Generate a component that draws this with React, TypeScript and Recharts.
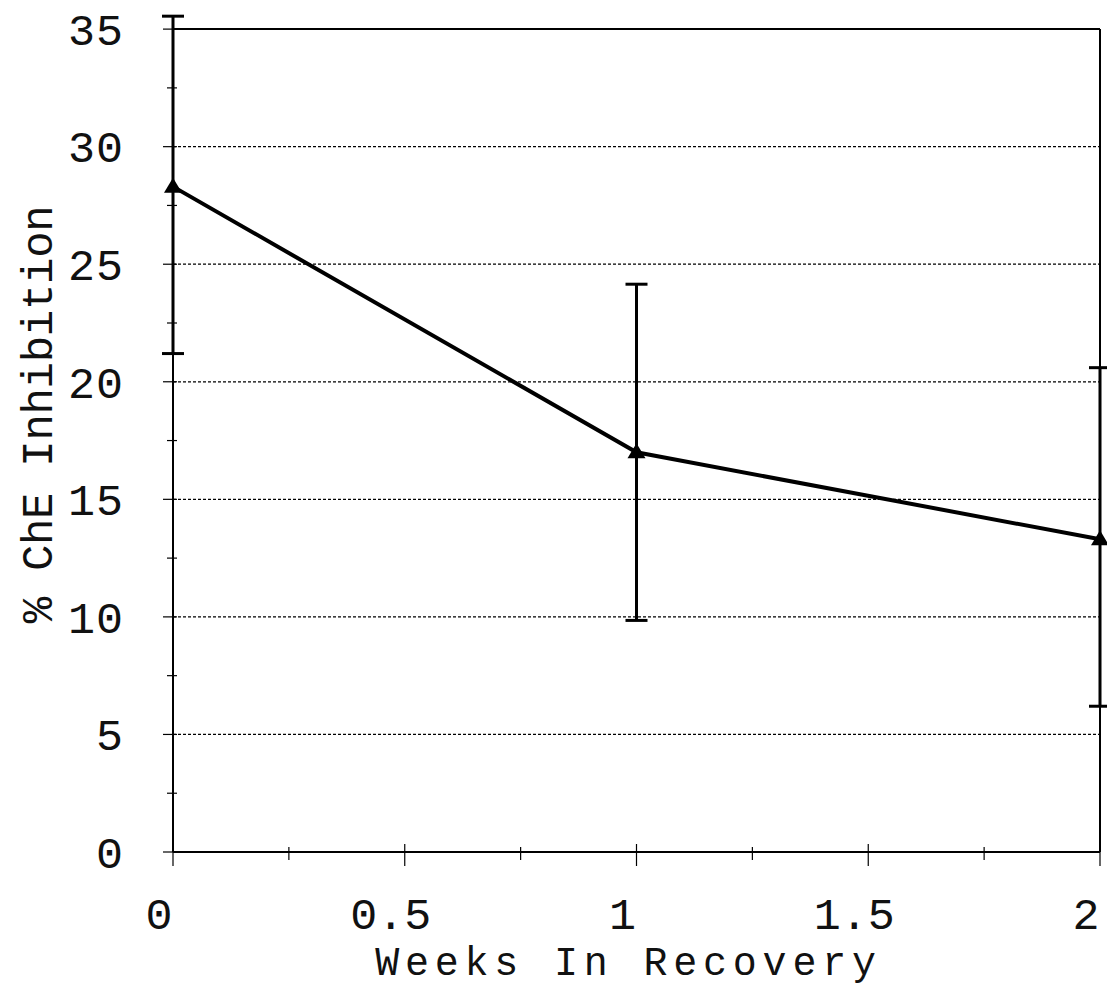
import React from "react";
import {
  LineChart,
  Line,
  XAxis,
  YAxis,
  CartesianGrid,
  ErrorBar,
  ReferenceLine,
} from "recharts";

// weeks in recovery vs % ChE inhibition
const weeks = [0, 1, 2];
const inhibition = [28.3, 17.0, 13.3];
const errLow = [7.1, 7.15, 7.1];
const errHigh = [7.25, 7.15, 7.3];

const xTicks = [0, 0.25, 0.5, 0.75, 1, 1.25, 1.5, 1.75, 2];
const yTicks = [0, 2.5, 5, 7.5, 10, 12.5, 15, 17.5, 20, 22.5, 25, 27.5, 30, 32.5, 35];
const gridValues = [5, 10, 15, 20, 25, 30];

const data = weeks.map((w, i) => ({
  week: w,
  value: inhibition[i],
  err: [errLow[i], errHigh[i]],
}));

const FONT = "'Liberation Mono', 'Courier New', monospace";

const Triangle = (props: any) => {
  const { cx, cy } = props;
  if (cx == null || cy == null) return null;
  return (
    <path
      d={`M${cx},${cy - 9} L${cx + 9},${cy + 6} L${cx - 9},${cy + 6} Z`}
      fill="#000"
    />
  );
};

const XTick = (props: any) => {
  const { x, y, payload } = props;
  const v = payload.value;
  const major = v % 0.5 === 0;
  return (
    <g>
      <line x1={x} x2={x} y1={y - (major ? 8 : 5)} y2={y + (major ? 14 : 8)} stroke="#000" strokeWidth={1.2} />
      {major && (
        <text x={x - 14} y={y + 61} dy="0.35em" textAnchor="middle" fontFamily={FONT} fontSize={45} fill="#111">
          {v}
        </text>
      )}
    </g>
  );
};

const YTick = (props: any) => {
  const { x, y, payload } = props;
  const v = payload.value;
  const major = v % 5 === 0;
  return (
    <g>
      <line x1={x - (major ? 10 : 6)} x2={x + 4} y1={y} y2={y} stroke="#000" strokeWidth={1.2} />
      {major && (
        <text x={x - 49} y={y} dy="0.35em" textAnchor="end" fontFamily={FONT} fontSize={45} letterSpacing={1} fill="#111">
          {v}
        </text>
      )}
    </g>
  );
};

const XTitle = (props: any) => {
  const vb = props.viewBox;
  return (
    <text
      x={vb.x + vb.width / 2 - 8}
      y={vb.y + vb.height - 24}
      textAnchor="middle"
      fontFamily={FONT}
      fontSize={40}
      letterSpacing={5.8}
      fill="#111"
    >
      Weeks In Recovery
    </text>
  );
};

const YTitle = (props: any) => {
  const vb = props.viewBox;
  const cx = vb.x + 52;
  const cy = vb.y + vb.height / 2 - 19;
  return (
    <text
      x={cx}
      y={cy}
      transform={`rotate(-90 ${cx} ${cy})`}
      textAnchor="middle"
      fontFamily={FONT}
      fontSize={44}
      letterSpacing={-0.3}
      fill="#111"
    >
      % ChE Inhibition
    </text>
  );
};

export default function App() {
  return (
    <div style={{ position: "absolute", left: 0, top: 0, background: "#fff" }}>
      <LineChart
        width={1107}
        height={999}
        data={data}
        margin={{ top: 15, right: 7, bottom: 0, left: 0 }}
      >
        <CartesianGrid
          horizontal={true}
          vertical={false}
          horizontalValues={gridValues}
          stroke="#000"
          strokeWidth={1.2}
          strokeDasharray="3 2"
        />
        <XAxis
          dataKey="week"
          type="number"
          domain={[0, 2]}
          ticks={xTicks}
          interval={0}
          height={147}
          tickSize={0}
          tickMargin={0}
          tickLine={false}
          axisLine={{ stroke: "#000", strokeWidth: 2 }}
          tick={<XTick />}
          label={XTitle}
        />
        <YAxis
          type="number"
          domain={[0, 35.6]}
          ticks={yTicks}
          interval={0}
          width={173}
          tickSize={0}
          tickMargin={0}
          tickLine={false}
          axisLine={{ stroke: "#000", strokeWidth: 2 }}
          tick={<YTick />}
          label={YTitle}
        />
        <ReferenceLine y={35} stroke="#000" strokeWidth={2} />
        <ReferenceLine
          segment={[
            { x: 2, y: 0 },
            { x: 2, y: 35 },
          ]}
          stroke="#000"
          strokeWidth={2}
        />
        <Line
          type="linear"
          dataKey="value"
          stroke="#000"
          strokeWidth={4}
          dot={<Triangle />}
          activeDot={false}
          isAnimationActive={false}
        >
          <ErrorBar dataKey="err" direction="y" width={11} strokeWidth={3} stroke="#000" />
        </Line>
      </LineChart>
    </div>
  );
}
